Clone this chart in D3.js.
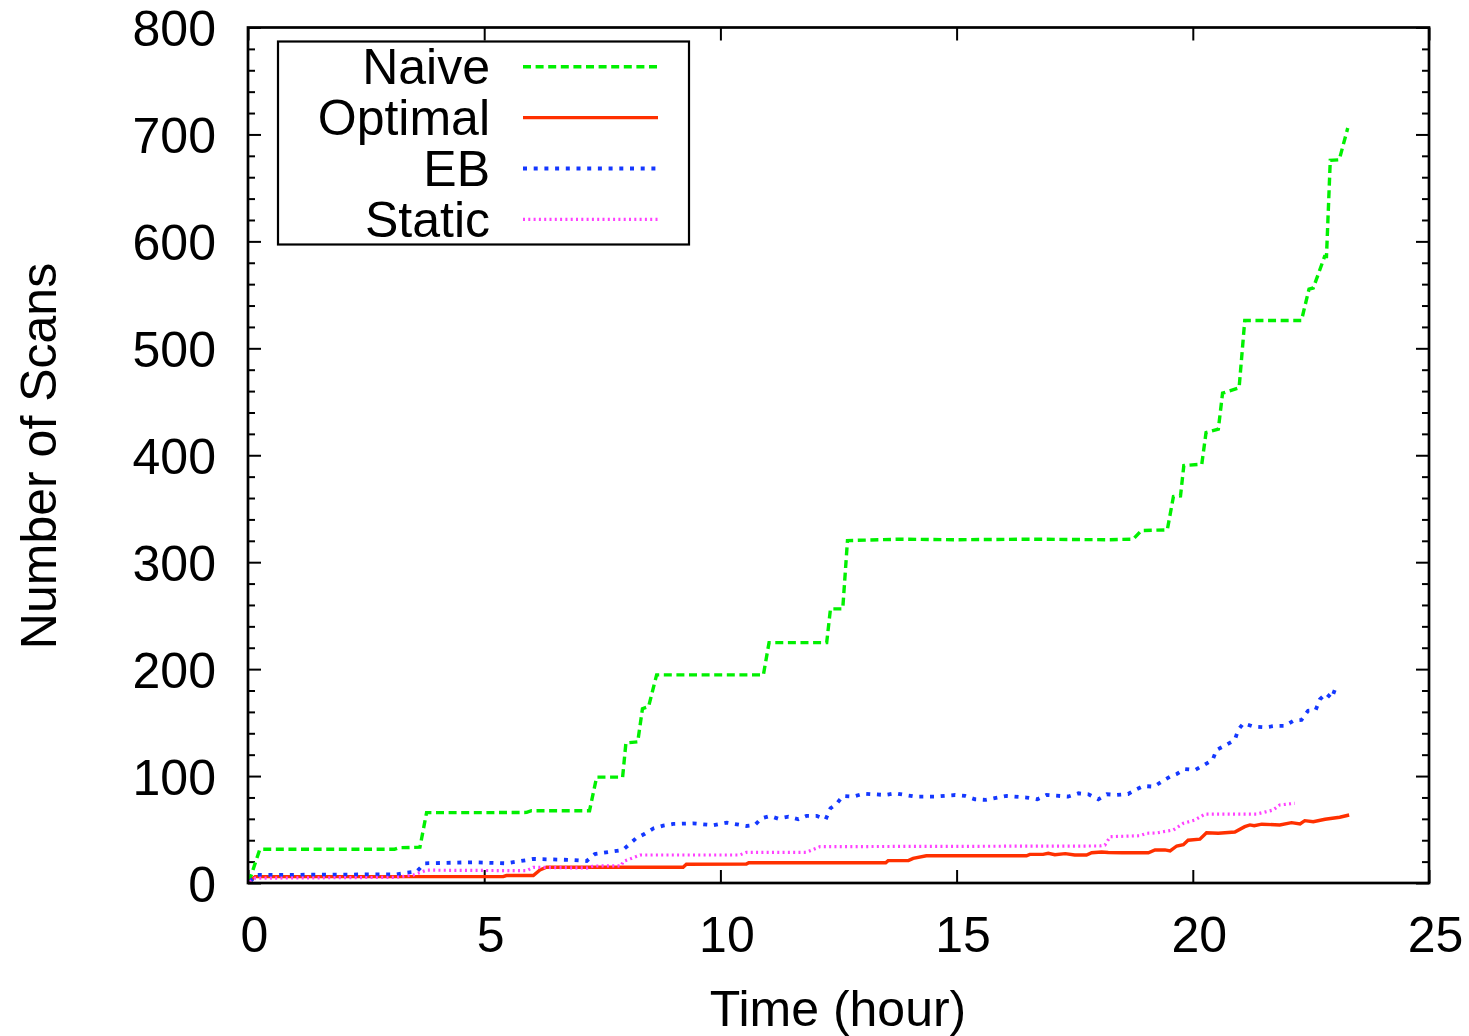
<!DOCTYPE html>
<html>
<head>
<meta charset="utf-8">
<script src="https://cdn.jsdelivr.net/npm/d3@7"></script>
<style>
  body { margin: 0; background: #fff; }
  text { font-family: "Liberation Sans", Arial, Helvetica, sans-serif; }
</style>
</head>
<body>
<svg id="chart" width="1469" height="1036"></svg>
<script>
// series: [time (hour), number of scans]
var naive = [[0.02,1],[0.25,31.5],[1.5,31.5],[3.1,31.5],[3.2,33],[3.64,33.5],[3.78,65.8],[5.0,65.8],[5.9,66],
  [6.0,67.6],[7.23,67.6],[7.38,99],[7.93,99],[8.0,131],[8.25,132],[8.35,163],[8.48,165],[8.65,194.6],
  [10.91,194.6],[11.03,224.8],[12.25,224.8],[12.33,256.3],[12.59,256.3],[12.69,320.2],[13.8,321.5],
  [15.0,321],[16.5,321.5],[18.2,321],[18.74,321.5],[18.91,329.6],[19.46,330.2],[19.59,361.4],[19.74,362],
  [19.81,390.4],[20.19,391.6],[20.28,421.2],[20.54,424.3],[20.63,458.1],[20.98,463],[21.1,526],[22.3,526],
  [22.46,555.4],[22.55,556.4],[22.79,585.9],[22.83,585.9],[22.91,675.7],[23.1,676.3],[23.28,706]];

var optimal = [[0,0],[0.15,6],[5.4,6],[5.47,7],[6.04,7],[6.18,12.2],[6.32,14.7],[9.21,14.7],[9.28,17.5],
  [10.55,17.8],[10.6,19],[13.5,19],[13.55,20.9],[13.98,20.9],[14.08,23],[14.36,25.5],[16.48,25.5],
  [16.55,26.8],[16.83,26.8],[16.94,27.8],[17.08,26.5],[17.3,27.5],[17.5,26.2],[17.75,26.2],[17.86,28.3],
  [18.07,29],[18.21,28.5],[18.5,28.3],[19.06,28.3],[19.2,30.9],[19.41,31],[19.52,30],[19.66,34.6],
  [19.8,35.8],[19.9,40],[20.15,41],[20.29,47],[20.54,46.5],[20.89,47.7],[21.1,52.7],[21.21,54.3],
  [21.3,53.6],[21.46,55],[21.84,54.3],[22.09,56.4],[22.27,55.2],[22.37,58.3],[22.55,57.3],[22.8,59.6],
  [23.11,61.5],[23.31,63.6]];

var eb = [[0.04,1.2],[0.18,7.5],[3.14,8.1],[3.36,9.6],[3.57,10.6],[3.74,18.4],[4.77,19.4],[5.47,18.4],
  [6.04,22.5],[6.88,21.5],[7.17,20.6],[7.34,27],[7.94,31],[8.22,42],[8.4,46],[8.58,51],[8.79,53.6],
  [9.0,55.2],[9.42,55.8],[9.85,54],[10.13,56.4],[10.55,53.3],[10.73,54.3],[10.87,60.5],[11.05,62.7],
  [11.22,60.2],[11.44,62],[11.65,59.6],[11.82,62.7],[12.04,62.7],[12.23,59.6],[12.33,69.9],[12.46,73.9],
  [12.59,81.4],[12.81,80.8],[13.03,83.6],[13.48,82.3],[13.7,83.9],[14.12,80.8],[14.54,80.8],[14.97,82.3],
  [15.18,81.4],[15.39,78.3],[15.62,77.7],[16.06,81.4],[16.48,79.9],[16.71,78.3],[16.9,82.3],[17.36,80.8],
  [17.58,83.9],[17.79,83],[18.0,78.3],[18.18,83],[18.39,82.3],[18.63,83.2],[18.81,87.7],[18.95,90.7],
  [19.18,90.1],[19.37,95.7],[19.52,99.5],[19.66,102],[19.83,106.6],[20.05,105.7],[20.24,110.4],[20.42,115],
  [20.5,124.4],[20.7,129],[20.89,133.8],[20.96,143],[21.07,149.4],[21.29,146.2],[21.53,145.6],[21.74,146.9],
  [21.95,146.9],[22.13,151.8],[22.3,152.4],[22.44,161.1],[22.6,161.7],[22.69,171.7],[22.82,177.3],
  [22.94,172.6],[23.03,183.6],[23.06,186]];

var staticS = [[0.04,1],[0.15,4.5],[3.14,5.3],[3.5,7.5],[3.78,12],[5.9,11.5],[6.04,14.7],[7.17,14],
  [7.31,15.9],[7.9,16],[7.94,20],[8.3,26.2],[10.41,26.2],[10.55,28.7],[11.82,28.7],[12.11,34],[18.03,34.6],
  [18.14,35.5],[18.25,43.3],[18.88,44.2],[19.02,46.5],[19.23,46.8],[19.59,49.6],[19.8,55.8],[20.05,59],
  [20.26,64.5],[21.35,64.5],[21.56,66.7],[21.7,68.3],[21.84,73],[22.16,74.5]];

var xTicks = [0, 5, 10, 15, 20, 25];
var yTicks = [0, 100, 200, 300, 400, 500, 600, 700, 800];
var yMinor = d3.range(0, 801, 20).filter(function(d) { return d % 100 !== 0; });

var seriesNames = ["Naive", "Optimal", "EB", "Static"];
var seriesData = [naive, optimal, eb, staticS];

var styles = [
  {color: "#00f000", width: 3.4, dash: "8,4.6"},
  {color: "#ff3000", width: 3.4, dash: null},
  {color: "#1438ff", width: 3.8, dash: "4,6.7"},
  {color: "#ff40ff", width: 3.2, dash: "2,3.3"}
];

var plotL = 248, plotR = 1429, plotT = 27.5, plotB = 883;
var fontSize = 50;

var x = d3.scaleLinear().domain([0, 25]).range([plotL, plotR]);
var y = d3.scaleLinear().domain([0, 800]).range([plotB, plotT]);

var svg = d3.select("#chart");

// ticks (inward, mirrored like gnuplot)
function tickAxis(axis, tx, ty) {
  var g = svg.append("g").attr("transform", "translate(" + tx + "," + ty + ")").call(axis);
  g.select(".domain").remove();
  g.selectAll(".tick line").attr("stroke", "#000").attr("stroke-width", 2);
  return g;
}

var gx = tickAxis(d3.axisBottom(x).tickValues(xTicks).tickSize(-13), 0, plotB);
gx.selectAll("text")
  .attr("y", 69).attr("dy", 0).attr("x", 6)
  .attr("font-size", fontSize).attr("fill", "#000")
  .style("font-family", "'Liberation Sans', Arial, sans-serif");

tickAxis(d3.axisTop(x).tickValues(xTicks).tickSize(-13).tickFormat(""), 0, plotT);

var gy = tickAxis(d3.axisLeft(y).tickValues(yTicks).tickSize(-13), plotL, 0);
gy.selectAll("text")
  .attr("x", -32).attr("dy", 0).attr("y", 18)
  .attr("font-size", fontSize).attr("fill", "#000")
  .style("font-family", "'Liberation Sans', Arial, sans-serif");

tickAxis(d3.axisLeft(y).tickValues(yMinor).tickSize(-7).tickFormat(""), plotL, 0);
tickAxis(d3.axisRight(y).tickValues(yTicks).tickSize(-13).tickFormat(""), plotR, 0);
tickAxis(d3.axisRight(y).tickValues(yMinor).tickSize(-7).tickFormat(""), plotR, 0);

// lines
var line = d3.line()
  .x(function(d) { return x(d[0]); })
  .y(function(d) { return y(d[1]); });

seriesData.forEach(function(data, i) {
  svg.append("path")
    .datum(data)
    .attr("d", line)
    .attr("fill", "none")
    .attr("stroke", styles[i].color)
    .attr("stroke-width", styles[i].width)
    .attr("stroke-dasharray", styles[i].dash);
});

// frame
svg.append("rect")
  .attr("x", plotL).attr("y", plotT)
  .attr("width", plotR - plotL).attr("height", plotB - plotT)
  .attr("fill", "none").attr("stroke", "#000").attr("stroke-width", 2.7);

// legend
svg.append("rect")
  .attr("x", 278).attr("y", 41.5).attr("width", 411).attr("height", 203)
  .attr("fill", "#fff").attr("stroke", "#000").attr("stroke-width", 2.2);

seriesNames.forEach(function(name, i) {
  var ly = 66.7 + i * 50.9;
  svg.append("text")
    .attr("x", 490).attr("y", ly + 17.5)
    .attr("text-anchor", "end")
    .attr("font-size", fontSize)
    .text(name);
  svg.append("line")
    .attr("x1", 523).attr("x2", 658)
    .attr("y1", ly).attr("y2", ly)
    .attr("stroke", styles[i].color)
    .attr("stroke-width", styles[i].width)
    .attr("stroke-dasharray", styles[i].dash);
});

// axis titles
svg.append("text")
  .attr("x", 838).attr("y", 1026)
  .attr("text-anchor", "middle")
  .attr("font-size", fontSize)
  .text("Time (hour)");

svg.append("text")
  .attr("transform", "translate(56,456) rotate(-90)")
  .attr("text-anchor", "middle")
  .attr("font-size", fontSize)
  .text("Number of Scans");
</script>
</body>
</html>
